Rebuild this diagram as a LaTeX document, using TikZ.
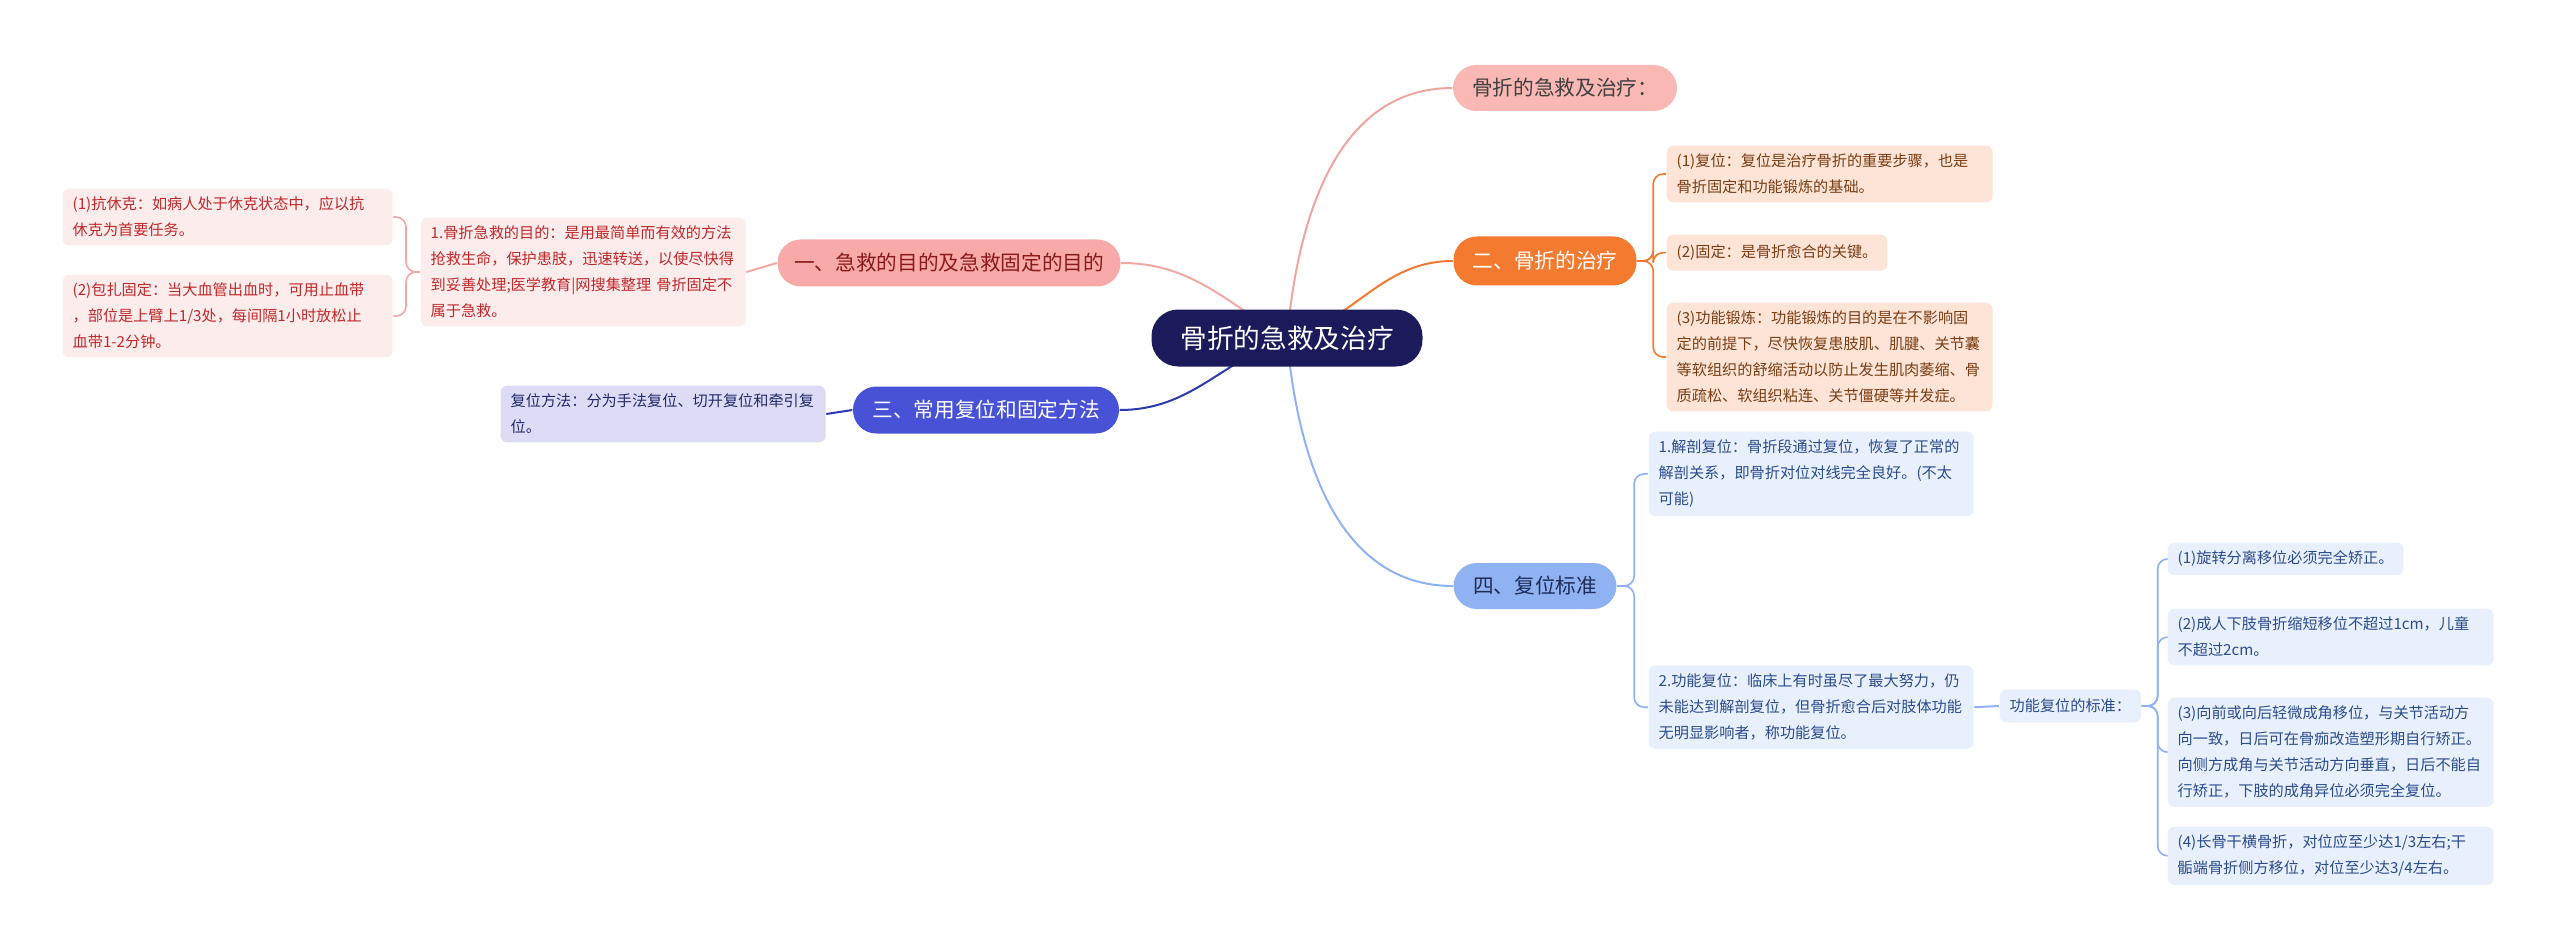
\documentclass[tikz,border=0pt]{standalone}
\usepackage{fontspec}
\setmainfont{Noto Sans CJK SC}
\usetikzlibrary{backgrounds}
\definecolor{rootc}{HTML}{1B1B5C}
\definecolor{bAf}{HTML}{F9B8B3}\definecolor{bAe}{HTML}{F0A59E}
\definecolor{bBf}{HTML}{F47A30}
\definecolor{bDf}{HTML}{8FB3F2}\definecolor{bDt}{HTML}{1F2D5A}
\definecolor{bLf}{HTML}{F8AAA8}\definecolor{bLt}{HTML}{8B1A1A}\definecolor{bLe}{HTML}{F4A8A4}
\definecolor{bCf}{HTML}{4852D6}\definecolor{bCe}{HTML}{2C3AB0}
\definecolor{pkf}{HTML}{FDECEC}\definecolor{pkt}{HTML}{C0282A}
\definecolor{lvf}{HTML}{DCDCF6}\definecolor{lvt}{HTML}{232A6A}
\definecolor{pcf}{HTML}{FDE4D6}\definecolor{pct}{HTML}{7A3D14}
\definecolor{blf}{HTML}{E8F0FD}\definecolor{blt}{HTML}{2B4C8C}
\tikzset{
 leaf/.style={rounded corners=2pt,align=left,anchor=north west,inner xsep=3pt,inner ysep=2.5pt,font=\fontsize{4.55}{7.8}\selectfont},
 branch/.style={rounded corners=7pt,font=\fontsize{6.2}{8}\selectfont,inner sep=0pt},
 edge/.style={line width=0.6pt},
 brk/.style={line width=0.5pt,rounded corners=3pt}
}
\begin{document}
\begin{tikzpicture}[x=0.3pt,y=-0.3pt]
\useasboundingbox (0,0) rectangle (2560,947);
\node[fill=rootc,text=white,rounded corners=8pt,minimum width=271*0.3pt,minimum height=57*0.3pt,font=\fontsize{8}{10}\selectfont] (root) at (1287,338) {骨折的急救及治疗};
\node[branch,fill=bAf,text=black!75,minimum width=224*0.3pt,minimum height=46*0.3pt] (bA) at (1565,88) {骨折的急救及治疗：};
\node[branch,fill=bBf,text=white,minimum width=183*0.3pt,minimum height=49*0.3pt] (bB) at (1545,261) {二、骨折的治疗};
\node[branch,fill=bDf,text=bDt,minimum width=163*0.3pt,minimum height=46*0.3pt] (bD) at (1535,586) {四、复位标准};
\node[branch,fill=bLf,text=bLt,minimum width=343*0.3pt,minimum height=47*0.3pt] (bL) at (949,263) {一、急救的目的及急救固定的目的};
\node[branch,fill=bCf,text=white,minimum width=266*0.3pt,minimum height=47*0.3pt] (bC) at (986,410) {三、常用复位和固定方法};
% left leaves
\node[leaf,fill=pkf,text=pkt,text width=91.5pt,minimum height=96*0.3pt] (l1) at (420,217) {1.骨折急救的目的：是用最简单而有效的方法\\抢救生命，保护患肢，迅速转送，以使尽快得\\到妥善处理;医学教育|网搜集整理~骨折固定不\\属于急救。};
\node[leaf,fill=pkf,text=pkt,text width=93pt,minimum height=54*0.3pt] (k1) at (62,188) {(1)抗休克：如病人处于休克状态中，应以抗\\休克为首要任务。};
\node[leaf,fill=pkf,text=pkt,text width=93pt,minimum height=75*0.3pt] (k2) at (62,274) {(2)包扎固定：当大血管出血时，可用止血带\\，部位是上臂上1/3处，每间隔1小时放松止\\血带1-2分钟。};
\node[leaf,fill=lvf,text=lvt,text width=91.5pt,minimum height=54*0.3pt] (m1) at (500,385) {复位方法：分为手法复位、切开复位和牵引复\\位。};
% orange leaves
\node[leaf,fill=pcf,text=pct,text width=91.8pt,minimum height=56*0.3pt] (o1) at (1666,145) {(1)复位：复位是治疗骨折的重要步骤，也是\\骨折固定和功能锻炼的基础。};
\node[leaf,fill=pcf,text=pct,minimum height=36*0.3pt] (o2) at (1666,234) {(2)固定：是骨折愈合的关键。};
\node[leaf,fill=pcf,text=pct,text width=91.8pt,minimum height=95*0.3pt] (o3) at (1666,302) {(3)功能锻炼：功能锻炼的目的是在不影响固\\定的前提下，尽快恢复患肢肌、肌腱、关节囊\\等软组织的舒缩活动以防止发生肌肉萎缩、骨\\质疏松、软组织粘连、关节僵硬等并发症。};
% blue leaves
\node[leaf,fill=blf,text=blt,text width=91.5pt,minimum height=77*0.3pt] (d1) at (1648,431) {1.解剖复位：骨折段通过复位，恢复了正常的\\解剖关系，即骨折对位对线完全良好。(不太\\可能)};
\node[leaf,fill=blf,text=blt,text width=91.5pt,minimum height=78*0.3pt] (d2) at (1648,665) {2.功能复位：临床上有时虽尽了最大努力，仍\\未能达到解剖复位，但骨折愈合后对肢体功能\\无明显影响者，称功能复位。};
\node[leaf,anchor=west,fill=blf,text=blt,minimum height=33*0.3pt] (s) at (1999,706) {功能复位的标准：};
\node[leaf,fill=blf,text=blt,minimum height=30*0.3pt] (s1) at (2167,542) {(1)旋转分离移位必须完全矫正。};
\node[leaf,fill=blf,text=blt,text width=91.8pt,minimum height=55*0.3pt] (s2) at (2167,608) {(2)成人下肢骨折缩短移位不超过1cm，儿童\\不超过2cm。};
\node[leaf,fill=blf,text=blt,text width=91.8pt,minimum height=94*0.3pt] (s3) at (2167,697) {(3)向前或向后轻微成角移位，与关节活动方\\向一致，日后可在骨痂改造塑形期自行矫正。\\向侧方成角与关节活动方向垂直，日后不能自\\行矫正，下肢的成角异位必须完全复位。};
\node[leaf,fill=blf,text=blt,text width=91.8pt,minimum height=54*0.3pt] (s4) at (2167,826) {(4)长骨干横骨折，对位应至少达1/3左右;干\\骺端骨折侧方移位，对位至少达3/4左右。};
\begin{scope}[on background layer]
\draw[edge,bAe] (root.center) to[out=85,in=180] (bA.west);
\draw[edge,bBf] (root.center) to[out=15,in=180] (bB.west);
\draw[edge,bDf] (root.center) to[out=-85,in=180] (bD.west);
\draw[edge,bLe] (root.center) to[out=150,in=0] (bL.east);
\draw[edge,bCe] (root.center) to[out=200,in=0] (bC.east);
\draw[edge,bLe] (bL.west) -- (l1.east);
\draw[brk,bLe] (l1.west) -- ++(-14,0) |- (k1.east);
\draw[brk,bLe] (l1.west) -- ++(-14,0) |- (k2.east);
\draw[edge,bCe] (bC.west) -- (m1.east);
\draw[brk,bBf] (bB.east) -- ++(16,0) |- (o1.west);
\draw[brk,bBf] (bB.east) -- ++(16,0) |- (o2.west);
\draw[brk,bBf] (bB.east) -- ++(16,0) |- (o3.west);
\draw[brk,bDf] (bD.east) -- ++(17,0) |- (d1.west);
\draw[brk,bDf] (bD.east) -- ++(17,0) |- (d2.west);
\draw[edge,bDf] (d2.east) -- (s.west);
\draw[brk,bDf] (s.east) -- ++(16,0) |- (s1.west);
\draw[brk,bDf] (s.east) -- ++(16,0) |- (s2.west);
\draw[brk,bDf] (s.east) -- ++(16,0) |- (s3.west);
\draw[brk,bDf] (s.east) -- ++(16,0) |- (s4.west);
\end{scope}
\end{tikzpicture}
\end{document}
